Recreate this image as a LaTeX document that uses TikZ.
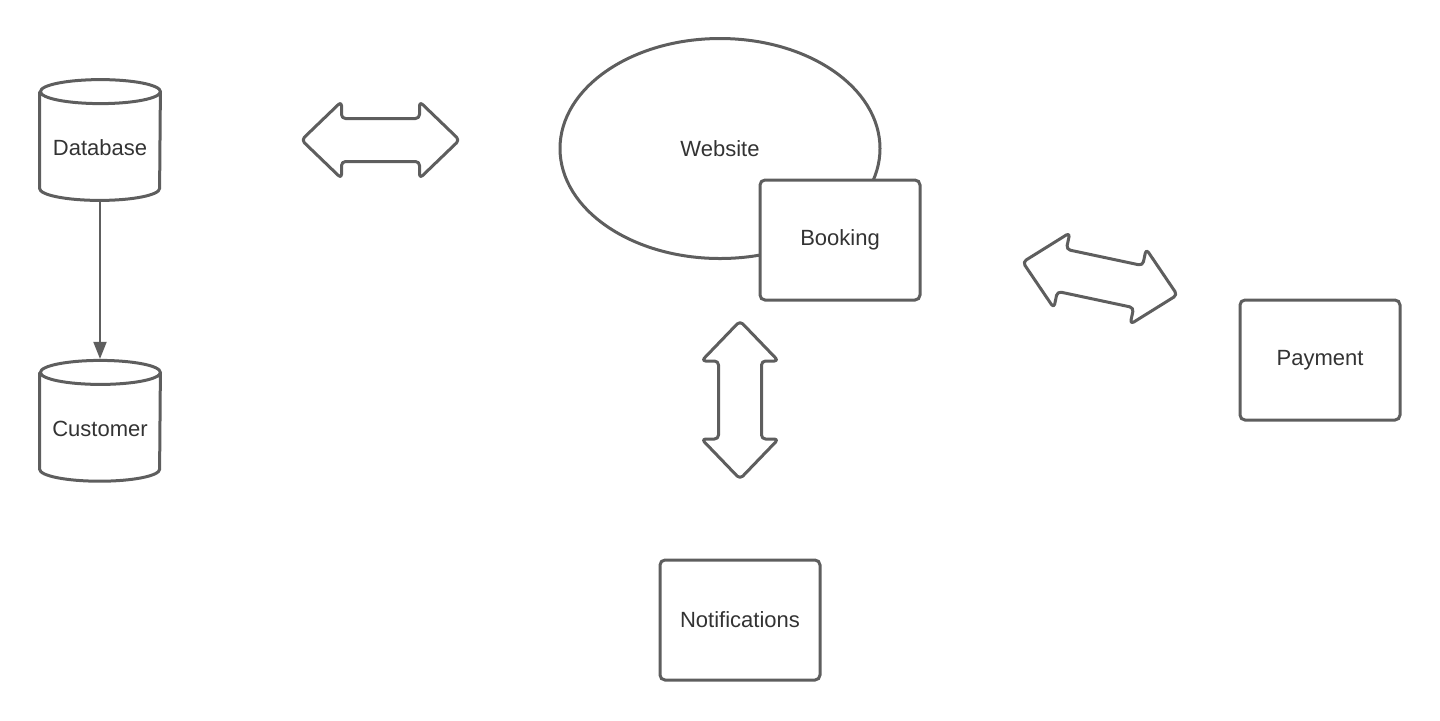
\documentclass[tikz,border=0pt]{standalone}
\usepackage{fontspec}
\setmainfont{Liberation Sans}
\usepackage{xcolor}
\usepackage{tikz}
\usetikzlibrary{positioning, arrows.meta, shapes.geometric}
\definecolor{linegray}{HTML}{5E5E5E}
\definecolor{textgray}{HTML}{333333}

\begin{document}
\begin{tikzpicture}[x=0.5pt, y=-0.5pt,
            every node/.style={font=\fontsize{11}{13}\selectfont, text=textgray},
            shapeline/.style={draw=linegray, line width=1.5pt},
            box/.style={shapeline, fill=white, rounded corners=2.5pt, minimum width=80pt, minimum height=60pt, inner sep=0pt},
            store/.style={minimum width=60pt, minimum height=60pt, inner sep=0pt, text height=15.8pt},
            conn/.style={draw=linegray, line width=1pt, -{Triangle[length=8.5pt, width=6.5pt]}},
            dblarrow/.pic={\draw[shapeline, rounded corners=2pt, line join=round]
                (-79,0) -- (-39,-38.5) -- (-39,-21.5) -- (39,-21.5) -- (39,-38.5) -- (79,0)
                -- (39,38.5) -- (39,21.5) -- (-39,21.5) -- (-39,38.5) -- cycle;}]
            \useasboundingbox (0,0) rectangle (1440,720);
            
            % the two stores on the left
            \node[store] (db) at (100,140) {Database};
            \node[store, below=80pt of db] (cust) {Customer};
            \foreach \n in {db, cust}
            \draw[shapeline] ([yshift=-6pt]\n.north west) -- ([yshift=6pt]\n.south west)
                arc[start angle=180, end angle=360, x radius=30pt, y radius=6pt]
                -- ([yshift=-6pt]\n.north east)
                arc[start angle=0, end angle=360, x radius=30pt, y radius=6pt];
            \draw[conn, shorten >=0.75pt] (db) -- (cust);
            
            \node[shapeline, ellipse, minimum width=160pt, minimum height=110pt, inner sep=0pt] (web) at (720,148.5) {Website};
            \node[box] (book) at (840,240) {Booking};
            \node[box] (notif) at (740,620) {Notifications};
            \node[box] (pay) at (1320,360) {Payment};
            
            \pic at (380.5,140) {dblarrow};
            \pic[rotate=90] at (740,400) {dblarrow};
            \pic[rotate=-12] at (1100,278.5) {dblarrow};
        \end{tikzpicture}
\end{document}
